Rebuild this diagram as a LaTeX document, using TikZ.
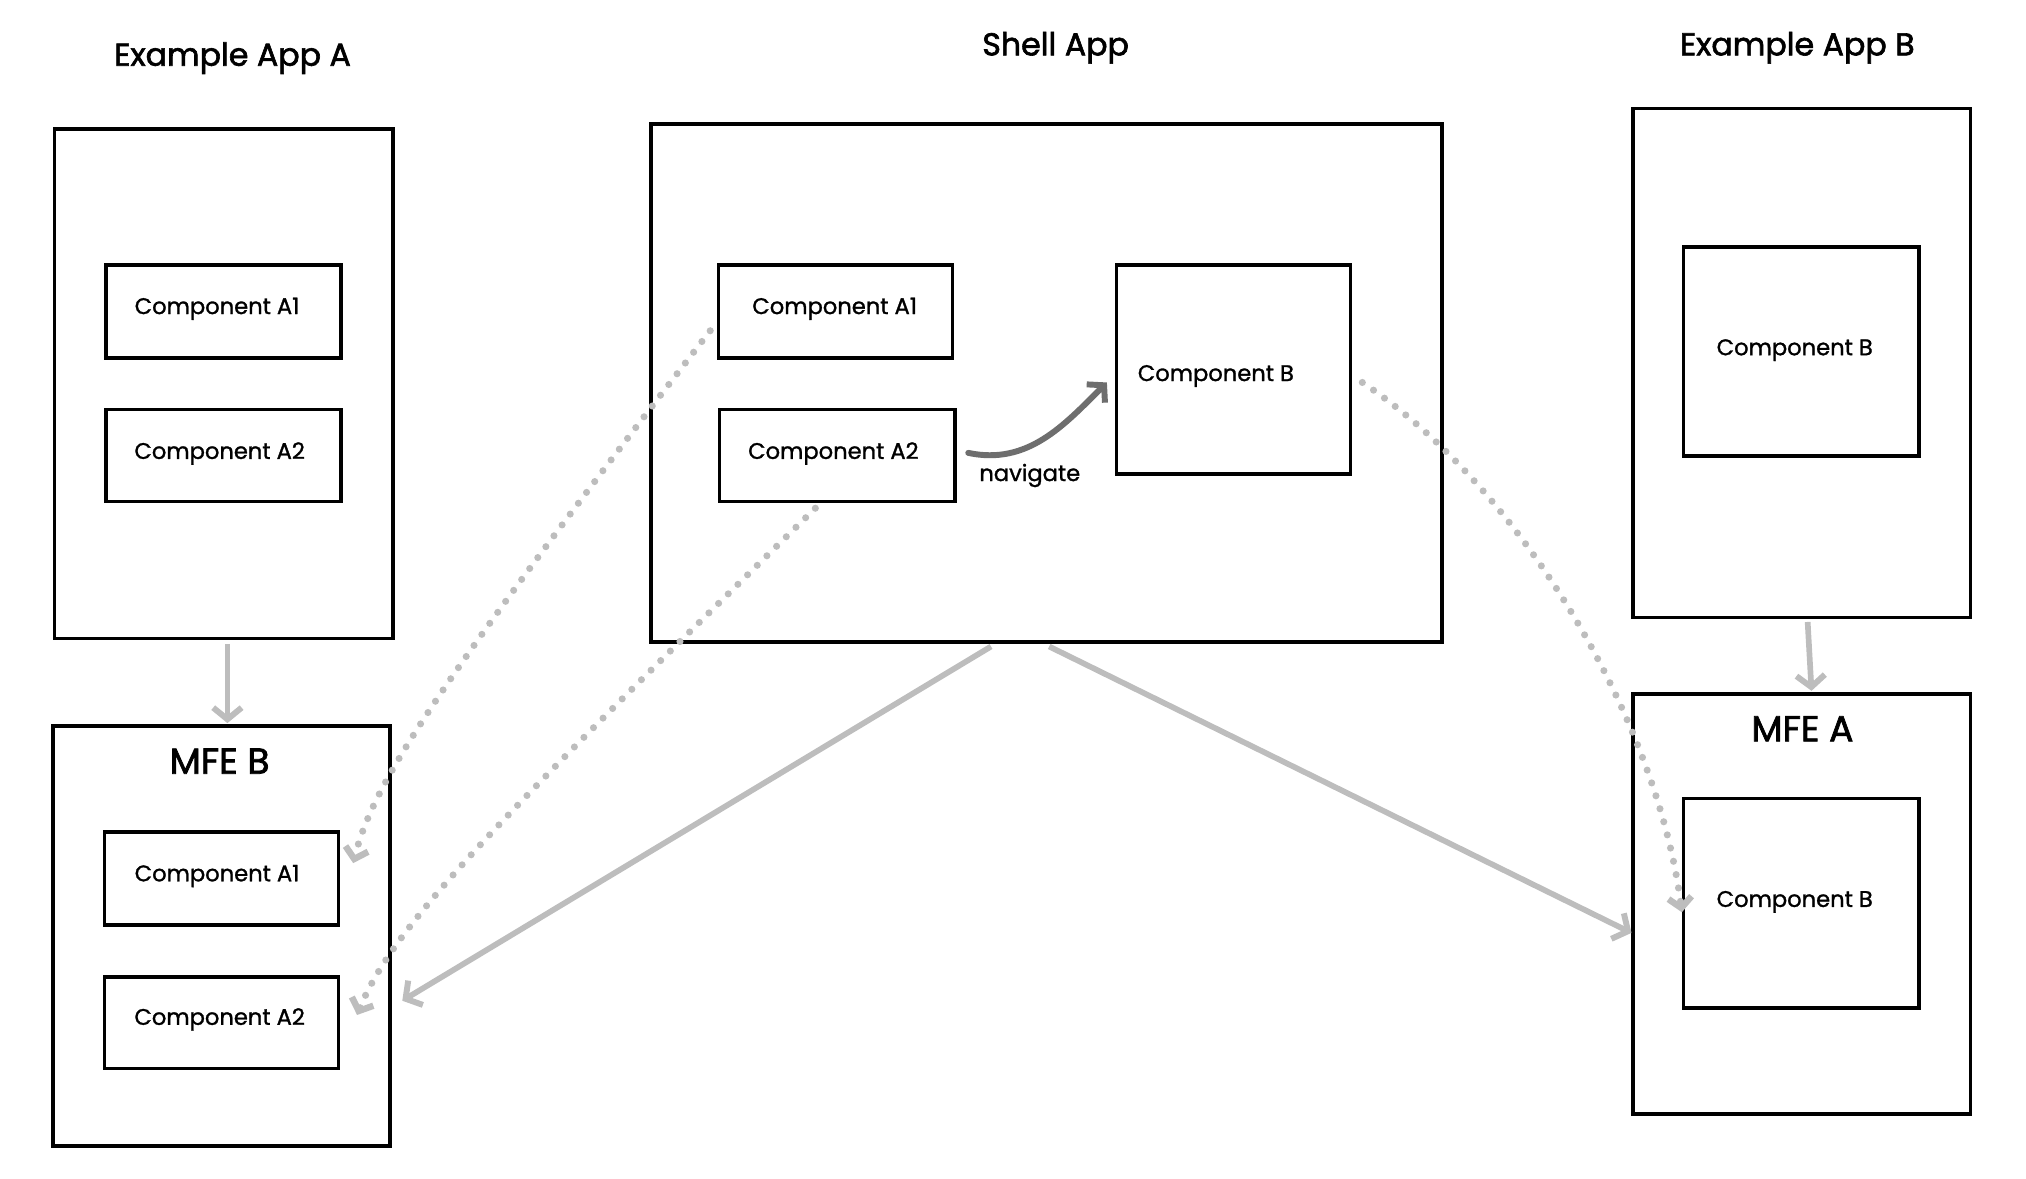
\documentclass[tikz,border=0pt]{standalone}
\usepackage{fontspec}
\setmainfont{Poppins}
\newfontfamily\compfont{Poppins}[FakeBold=1.2]
\newfontfamily\titlefont{Poppins}[FakeBold=2]
\usetikzlibrary{arrows.meta,calc}
\definecolor{lgray}{HTML}{BDBDBD}
\definecolor{dgray}{HTML}{6E6E6E}
\tikzset{
  box/.style={draw=black, line width=2.7pt, fill=white, inner sep=0pt},
  comptext/.style={font=\compfont\fontsize{17.5}{20}\selectfont, inner sep=0pt},
  titletext/.style={font=\titlefont\fontsize{24.5}{28}\selectfont, inner sep=0pt},
  mfetext/.style={font=\titlefont\fontsize{28}{32}\selectfont, inner sep=0pt},
  flowarrow/.style={draw=lgray, line width=4.4pt, -{Straight Barb[length=9pt,width=22pt,line width=4.6pt]}},
  navarrow/.style={draw=dgray, line width=4.6pt, line cap=round, -{Straight Barb[length=9pt,width=20pt,line width=4.6pt]}},
  dotarrow/.style={draw=lgray, line width=5.5pt, line cap=round, dash pattern=on 0pt off 10.5pt, -{Straight Barb[length=8pt,width=18pt,line width=5pt]}},
}
\newcommand\mkbox[5]{\node[box, minimum width={(#4-#2)*1pt}, minimum height={(#5-#3)*1pt}] (#1) at ({(#2+#4)/2},{(#3+#5)/2}) {};}
\begin{document}
\begin{tikzpicture}[x=1pt,y=-1pt]
\useasboundingbox (0,0) rectangle (1568,912);
% titles
\node[titletext] (tA) at (180,45) {Example App A};
\node[titletext] (tS) at (817,37) {Shell App};
\node[titletext] (tB) at (1391,37) {Example App B};
% Example App A
\mkbox{appA}{42}{100}{304}{494}
\mkbox{aA1}{82}{205}{264}{277}
\mkbox{aA2}{82}{317}{264}{388}
\node[comptext] (aA1t) at (168,239) {Component A1};
\node[comptext] (aA2t) at (170,351) {Component A2};
% MFE B
\mkbox{mfeB}{41}{562}{302}{887}
\node[mfetext] (mfeBt) at (170,589) {MFE B};
\mkbox{mB1}{81}{644}{262}{716}
\mkbox{mB2}{81}{756}{262}{827}
\node[comptext] (mB1t) at (168,678) {Component A1};
\node[comptext] (mB2t) at (170,789) {Component A2};
% Shell
\mkbox{shell}{504}{96}{1116}{497}
\mkbox{sA1}{556}{205}{737}{277}
\mkbox{sA2}{557}{317}{739}{388}
\mkbox{sB}{864}{205}{1045}{367}
\node[comptext] (sA1t) at (646,239) {Component A1};
\node[comptext] (sA2t) at (645,351) {Component A2};
\node[comptext] (sBt) at (941,291) {Component B};
% Example App B
\mkbox{appB}{1264}{84}{1525}{478}
\mkbox{bB}{1303}{191}{1485}{353}
\node[comptext] (bBt) at (1389,271) {Component B};
% MFE A
\mkbox{mfeA}{1264}{537}{1525}{862}
\node[mfetext] (mfeAt) at (1395,564) {MFE A};
\mkbox{mAB}{1303}{618}{1485}{780}
\node[comptext] (mABt) at (1389,698) {Component B};
% solid arrows
\draw[flowarrow] ([shift={(3pt,-3pt)}]appA.south) -- ([shift={(4.5pt,1pt)}]mfeB.north);
\draw[flowarrow] ([shift={(4.5pt,-2pt)}]appB.south) -- ([shift={(7.5pt,1pt)}]mfeA.north);
\draw[flowarrow] ([shift={(-43pt,-2pt)}]shell.south) -- ([shift={(8pt,-50pt)}]mfeB.east);
\draw[flowarrow] ([shift={(2pt,-2pt)}]shell.south) -- ([shift={(0pt,-22.5pt)}]mfeA.west);
% navigate
\draw[navarrow] ([shift={(9pt,2pt)}]sA2.east) to[out=-12,in=-135] ([shift={(-6pt,-10pt)}]sB.west);
\node[comptext] (navt) at (797,368) {navigate};
% dotted
\draw[dotarrow] ([shift={(-5pt,-15pt)}]sA1.west) .. controls (330,540) and (288,610) .. ([shift={(10pt,12pt)}]mB1.east);
\draw[dotarrow] ([shift={(-17pt,-4pt)}]sA2.south) .. controls (390,630) and (305,715) .. ([shift={(13pt,6pt)}]mB2.east);
\draw[dotarrow] ([shift={(8pt,-10pt)}]sB.east) .. controls (1180,380) and (1283,560) .. ([shift={(0pt,-7pt)}]mAB.west);
\end{tikzpicture}
\end{document}
